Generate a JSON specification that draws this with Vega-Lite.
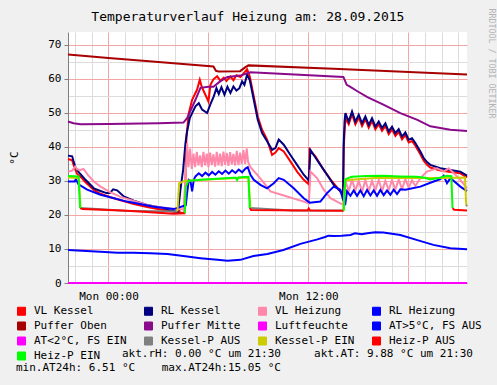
{
  "$schema": "https://vega.github.io/schema/vega-lite/v6.json",
  "width": 399,
  "height": 251,
  "autosize": {"type": "none"},
  "padding": {"left": 68, "top": 32, "right": 30, "bottom": 102},
  "background": "#f0f0f0",
  "config": {
    "font": "DejaVu Sans Mono",
    "view": {"stroke": null, "fill": "white"}
  },
  "title": {
    "text": "Temperaturverlauf Heizung am: 28.09.2015",
    "font": "DejaVu Sans Mono",
    "fontSize": 13,
    "fontWeight": "normal",
    "color": "black",
    "anchor": "middle",
    "frame": "bounds",
    "baseline": "alphabetic",
    "offset": -26,
    "dx": -4
  },
  "data": {
    "values": [
      {"s":"VL Kessel","h":-2.43,"v":36.4},{"s":"VL Kessel","h":-2.18,"v":36.0},{"s":"VL Kessel","h":-2.05,"v":34.0},{"s":"VL Kessel","h":-1.88,"v":32.0},{"s":"VL Kessel","h":-1.6,"v":30.8},{"s":"VL Kessel","h":-1.38,"v":29.6},{"s":"VL Kessel","h":-0.88,"v":27.3},{"s":"VL Kessel","h":-0.48,"v":26.2},{"s":"VL Kessel","h":0.12,"v":25.2},{"s":"VL Kessel","h":0.72,"v":24.3},{"s":"VL Kessel","h":1.52,"v":23.2},{"s":"VL Kessel","h":2.32,"v":22.3},{"s":"VL Kessel","h":3.12,"v":21.6},{"s":"VL Kessel","h":3.9,"v":20.9},{"s":"VL Kessel","h":4.14,"v":20.6},{"s":"VL Kessel","h":4.2,"v":22.4},{"s":"VL Kessel","h":4.28,"v":20.7},{"s":"VL Kessel","h":4.56,"v":20.5},{"s":"VL Kessel","h":4.62,"v":30.0},{"s":"VL Kessel","h":4.68,"v":43.0},{"s":"VL Kessel","h":4.82,"v":49.9},{"s":"VL Kessel","h":5.02,"v":53.8},{"s":"VL Kessel","h":5.32,"v":56.8},{"s":"VL Kessel","h":5.48,"v":59.7},{"s":"VL Kessel","h":5.6,"v":57.6},{"s":"VL Kessel","h":5.72,"v":56.3},{"s":"VL Kessel","h":6.0,"v":53.3},{"s":"VL Kessel","h":6.12,"v":58.2},{"s":"VL Kessel","h":6.3,"v":59.8},{"s":"VL Kessel","h":6.52,"v":60.7},{"s":"VL Kessel","h":6.72,"v":59.4},{"s":"VL Kessel","h":6.92,"v":60.3},{"s":"VL Kessel","h":7.08,"v":59.3},{"s":"VL Kessel","h":7.32,"v":60.6},{"s":"VL Kessel","h":7.5,"v":59.5},{"s":"VL Kessel","h":7.68,"v":61.0},{"s":"VL Kessel","h":7.92,"v":60.5},{"s":"VL Kessel","h":8.1,"v":61.5},{"s":"VL Kessel","h":8.32,"v":62.8},{"s":"VL Kessel","h":8.48,"v":60.7},{"s":"VL Kessel","h":8.72,"v":54.8},{"s":"VL Kessel","h":8.96,"v":48.9},{"s":"VL Kessel","h":9.22,"v":45.0},{"s":"VL Kessel","h":9.52,"v":42.1},{"s":"VL Kessel","h":9.82,"v":37.6},{"s":"VL Kessel","h":10.02,"v":38.3},{"s":"VL Kessel","h":10.22,"v":39.6},{"s":"VL Kessel","h":10.52,"v":38.6},{"s":"VL Kessel","h":10.92,"v":35.7},{"s":"VL Kessel","h":11.32,"v":32.7},{"s":"VL Kessel","h":11.72,"v":30.3},{"s":"VL Kessel","h":12.02,"v":29.0},{"s":"VL Kessel","h":12.07,"v":39.1},{"s":"VL Kessel","h":12.42,"v":37.2},{"s":"VL Kessel","h":12.92,"v":33.2},{"s":"VL Kessel","h":13.42,"v":29.8},{"s":"VL Kessel","h":13.92,"v":26.9},{"s":"VL Kessel","h":14.08,"v":25.6},{"s":"VL Kessel","h":14.12,"v":40.0},{"s":"VL Kessel","h":14.22,"v":48.4},{"s":"VL Kessel","h":14.42,"v":46.6},{"s":"VL Kessel","h":14.62,"v":49.6},{"s":"VL Kessel","h":14.82,"v":46.6},{"s":"VL Kessel","h":15.02,"v":48.6},{"s":"VL Kessel","h":15.22,"v":46.1},{"s":"VL Kessel","h":15.42,"v":48.1},{"s":"VL Kessel","h":15.62,"v":45.6},{"s":"VL Kessel","h":15.82,"v":47.6},{"s":"VL Kessel","h":16.02,"v":45.1},{"s":"VL Kessel","h":16.22,"v":46.6},{"s":"VL Kessel","h":16.42,"v":44.7},{"s":"VL Kessel","h":16.62,"v":46.1},{"s":"VL Kessel","h":16.82,"v":43.7},{"s":"VL Kessel","h":17.02,"v":45.1},{"s":"VL Kessel","h":17.22,"v":43.2},{"s":"VL Kessel","h":17.42,"v":44.4},{"s":"VL Kessel","h":17.62,"v":42.2},{"s":"VL Kessel","h":17.82,"v":43.4},{"s":"VL Kessel","h":18.02,"v":41.3},{"s":"VL Kessel","h":18.22,"v":41.7},{"s":"VL Kessel","h":18.42,"v":40.3},{"s":"VL Kessel","h":18.72,"v":37.8},{"s":"VL Kessel","h":18.92,"v":35.9},{"s":"VL Kessel","h":19.12,"v":34.7},{"s":"VL Kessel","h":19.32,"v":33.9},{"s":"VL Kessel","h":19.92,"v":33.0},{"s":"VL Kessel","h":20.52,"v":32.6},{"s":"VL Kessel","h":21.12,"v":32.2},{"s":"VL Kessel","h":21.52,"v":31.0},

      {"s":"RL Kessel","h":-2.43,"v":37.4},{"s":"RL Kessel","h":-2.18,"v":37.2},{"s":"RL Kessel","h":-2.1,"v":35.8},{"s":"RL Kessel","h":-1.98,"v":34.0},{"s":"RL Kessel","h":-1.8,"v":32.6},{"s":"RL Kessel","h":-1.6,"v":31.5},{"s":"RL Kessel","h":-1.38,"v":30.3},{"s":"RL Kessel","h":-0.88,"v":27.8},{"s":"RL Kessel","h":-0.48,"v":27.0},{"s":"RL Kessel","h":-0.12,"v":26.4},{"s":"RL Kessel","h":0.08,"v":26.4},{"s":"RL Kessel","h":0.28,"v":27.5},{"s":"RL Kessel","h":0.52,"v":27.2},{"s":"RL Kessel","h":0.92,"v":25.4},{"s":"RL Kessel","h":1.52,"v":24.2},{"s":"RL Kessel","h":2.32,"v":22.9},{"s":"RL Kessel","h":3.12,"v":22.2},{"s":"RL Kessel","h":4.02,"v":21.0},{"s":"RL Kessel","h":4.17,"v":20.8},{"s":"RL Kessel","h":4.32,"v":27.4},{"s":"RL Kessel","h":4.48,"v":33.2},{"s":"RL Kessel","h":4.62,"v":41.1},{"s":"RL Kessel","h":4.72,"v":44.5},{"s":"RL Kessel","h":4.88,"v":48.4},{"s":"RL Kessel","h":5.02,"v":49.9},{"s":"RL Kessel","h":5.22,"v":51.9},{"s":"RL Kessel","h":5.42,"v":52.8},{"s":"RL Kessel","h":5.62,"v":50.9},{"s":"RL Kessel","h":5.92,"v":49.9},{"s":"RL Kessel","h":6.12,"v":52.5},{"s":"RL Kessel","h":6.32,"v":54.8},{"s":"RL Kessel","h":6.48,"v":57.2},{"s":"RL Kessel","h":6.62,"v":55.5},{"s":"RL Kessel","h":6.78,"v":57.5},{"s":"RL Kessel","h":6.96,"v":55.3},{"s":"RL Kessel","h":7.14,"v":57.6},{"s":"RL Kessel","h":7.32,"v":55.8},{"s":"RL Kessel","h":7.5,"v":57.7},{"s":"RL Kessel","h":7.68,"v":56.5},{"s":"RL Kessel","h":7.86,"v":57.2},{"s":"RL Kessel","h":8.02,"v":59.2},{"s":"RL Kessel","h":8.16,"v":58.2},{"s":"RL Kessel","h":8.32,"v":61.2},{"s":"RL Kessel","h":8.48,"v":59.6},{"s":"RL Kessel","h":8.72,"v":53.8},{"s":"RL Kessel","h":8.96,"v":47.9},{"s":"RL Kessel","h":9.22,"v":44.0},{"s":"RL Kessel","h":9.52,"v":41.6},{"s":"RL Kessel","h":9.82,"v":39.1},{"s":"RL Kessel","h":10.02,"v":39.6},{"s":"RL Kessel","h":10.22,"v":42.1},{"s":"RL Kessel","h":10.52,"v":40.6},{"s":"RL Kessel","h":10.92,"v":37.6},{"s":"RL Kessel","h":11.32,"v":34.7},{"s":"RL Kessel","h":11.72,"v":31.8},{"s":"RL Kessel","h":12.02,"v":30.1},{"s":"RL Kessel","h":12.09,"v":36.0},{"s":"RL Kessel","h":12.12,"v":39.1},{"s":"RL Kessel","h":12.32,"v":37.6},{"s":"RL Kessel","h":12.72,"v":34.7},{"s":"RL Kessel","h":13.12,"v":31.8},{"s":"RL Kessel","h":13.52,"v":28.8},{"s":"RL Kessel","h":13.92,"v":26.9},{"s":"RL Kessel","h":14.08,"v":25.6},{"s":"RL Kessel","h":14.12,"v":41.0},{"s":"RL Kessel","h":14.17,"v":47.4},{"s":"RL Kessel","h":14.22,"v":49.9},{"s":"RL Kessel","h":14.42,"v":47.4},{"s":"RL Kessel","h":14.62,"v":50.4},{"s":"RL Kessel","h":14.82,"v":47.4},{"s":"RL Kessel","h":15.02,"v":49.4},{"s":"RL Kessel","h":15.22,"v":46.9},{"s":"RL Kessel","h":15.42,"v":48.9},{"s":"RL Kessel","h":15.62,"v":46.4},{"s":"RL Kessel","h":15.82,"v":48.4},{"s":"RL Kessel","h":16.02,"v":45.9},{"s":"RL Kessel","h":16.22,"v":47.4},{"s":"RL Kessel","h":16.42,"v":45.5},{"s":"RL Kessel","h":16.62,"v":46.9},{"s":"RL Kessel","h":16.82,"v":44.5},{"s":"RL Kessel","h":17.02,"v":45.9},{"s":"RL Kessel","h":17.22,"v":44.0},{"s":"RL Kessel","h":17.42,"v":45.2},{"s":"RL Kessel","h":17.62,"v":43.0},{"s":"RL Kessel","h":17.82,"v":44.2},{"s":"RL Kessel","h":18.02,"v":42.1},{"s":"RL Kessel","h":18.22,"v":42.5},{"s":"RL Kessel","h":18.42,"v":41.1},{"s":"RL Kessel","h":18.72,"v":38.6},{"s":"RL Kessel","h":18.92,"v":36.7},{"s":"RL Kessel","h":19.12,"v":35.5},{"s":"RL Kessel","h":19.32,"v":34.7},{"s":"RL Kessel","h":19.92,"v":33.7},{"s":"RL Kessel","h":20.52,"v":33.2},{"s":"RL Kessel","h":21.12,"v":32.7},{"s":"RL Kessel","h":21.52,"v":31.5},

      {"s":"VL Heizung","h":-2.43,"v":32.7},{"s":"VL Heizung","h":-2.18,"v":33.0},{"s":"VL Heizung","h":-2.0,"v":34.2},{"s":"VL Heizung","h":-1.88,"v":33.4},{"s":"VL Heizung","h":-1.68,"v":33.2},{"s":"VL Heizung","h":-1.5,"v":33.5},{"s":"VL Heizung","h":-1.2,"v":31.5},{"s":"VL Heizung","h":-0.88,"v":29.8},{"s":"VL Heizung","h":-0.48,"v":28.3},{"s":"VL Heizung","h":0.12,"v":26.6},{"s":"VL Heizung","h":0.72,"v":25.3},{"s":"VL Heizung","h":1.12,"v":24.7},{"s":"VL Heizung","h":2.52,"v":22.6},{"s":"VL Heizung","h":3.72,"v":21.9},{"s":"VL Heizung","h":4.5,"v":21.6},{"s":"VL Heizung","h":4.62,"v":30.0},{"s":"VL Heizung","h":4.72,"v":41.0},{"s":"VL Heizung","h":4.8,"v":34.0},{"s":"VL Heizung","h":4.9,"v":39.5},{"s":"VL Heizung","h":5.0,"v":33.5},{"s":"VL Heizung","h":5.1,"v":38.0},{"s":"VL Heizung","h":5.2,"v":34.0},{"s":"VL Heizung","h":5.3,"v":38.5},{"s":"VL Heizung","h":5.4,"v":34.5},{"s":"VL Heizung","h":5.5,"v":37.5},{"s":"VL Heizung","h":5.6,"v":34.0},{"s":"VL Heizung","h":5.7,"v":38.5},{"s":"VL Heizung","h":5.8,"v":34.5},{"s":"VL Heizung","h":5.9,"v":38.0},{"s":"VL Heizung","h":6.0,"v":34.0},{"s":"VL Heizung","h":6.1,"v":38.3},{"s":"VL Heizung","h":6.2,"v":34.6},{"s":"VL Heizung","h":6.3,"v":37.8},{"s":"VL Heizung","h":6.4,"v":34.2},{"s":"VL Heizung","h":6.5,"v":38.5},{"s":"VL Heizung","h":6.6,"v":34.5},{"s":"VL Heizung","h":6.7,"v":38.0},{"s":"VL Heizung","h":6.8,"v":34.3},{"s":"VL Heizung","h":6.9,"v":38.6},{"s":"VL Heizung","h":7.0,"v":34.7},{"s":"VL Heizung","h":7.1,"v":38.2},{"s":"VL Heizung","h":7.2,"v":34.4},{"s":"VL Heizung","h":7.3,"v":38.4},{"s":"VL Heizung","h":7.4,"v":34.8},{"s":"VL Heizung","h":7.5,"v":37.9},{"s":"VL Heizung","h":7.6,"v":34.5},{"s":"VL Heizung","h":7.7,"v":38.8},{"s":"VL Heizung","h":7.8,"v":34.6},{"s":"VL Heizung","h":7.9,"v":38.3},{"s":"VL Heizung","h":8.0,"v":34.9},{"s":"VL Heizung","h":8.1,"v":39.0},{"s":"VL Heizung","h":8.2,"v":35.0},{"s":"VL Heizung","h":8.3,"v":39.5},{"s":"VL Heizung","h":8.38,"v":35.5},{"s":"VL Heizung","h":8.52,"v":34.0},{"s":"VL Heizung","h":8.92,"v":31.8},{"s":"VL Heizung","h":9.32,"v":29.5},{"s":"VL Heizung","h":9.72,"v":26.9},{"s":"VL Heizung","h":10.72,"v":25.4},{"s":"VL Heizung","h":11.72,"v":23.9},{"s":"VL Heizung","h":12.02,"v":23.4},{"s":"VL Heizung","h":12.08,"v":28.0},{"s":"VL Heizung","h":12.12,"v":32.7},{"s":"VL Heizung","h":12.52,"v":30.8},{"s":"VL Heizung","h":12.92,"v":27.4},{"s":"VL Heizung","h":13.32,"v":24.9},{"s":"VL Heizung","h":13.92,"v":23.4},{"s":"VL Heizung","h":14.08,"v":23.0},{"s":"VL Heizung","h":14.16,"v":26.0},{"s":"VL Heizung","h":14.22,"v":30.0},{"s":"VL Heizung","h":14.42,"v":27.0},{"s":"VL Heizung","h":14.62,"v":30.2},{"s":"VL Heizung","h":14.82,"v":27.2},{"s":"VL Heizung","h":15.02,"v":30.0},{"s":"VL Heizung","h":15.22,"v":26.8},{"s":"VL Heizung","h":15.42,"v":30.2},{"s":"VL Heizung","h":15.62,"v":27.0},{"s":"VL Heizung","h":15.82,"v":30.0},{"s":"VL Heizung","h":16.02,"v":27.2},{"s":"VL Heizung","h":16.22,"v":30.3},{"s":"VL Heizung","h":16.42,"v":27.0},{"s":"VL Heizung","h":16.62,"v":30.0},{"s":"VL Heizung","h":16.82,"v":27.3},{"s":"VL Heizung","h":17.02,"v":30.2},{"s":"VL Heizung","h":17.22,"v":27.4},{"s":"VL Heizung","h":17.42,"v":30.4},{"s":"VL Heizung","h":17.62,"v":27.6},{"s":"VL Heizung","h":17.82,"v":30.5},{"s":"VL Heizung","h":18.02,"v":28.0},{"s":"VL Heizung","h":18.22,"v":30.2},{"s":"VL Heizung","h":18.42,"v":28.5},{"s":"VL Heizung","h":18.72,"v":30.8},{"s":"VL Heizung","h":19.12,"v":32.7},{"s":"VL Heizung","h":19.72,"v":33.7},{"s":"VL Heizung","h":20.12,"v":32.7},{"s":"VL Heizung","h":20.42,"v":33.7},{"s":"VL Heizung","h":20.82,"v":31.8},{"s":"VL Heizung","h":21.12,"v":30.3},{"s":"VL Heizung","h":21.52,"v":27.8},

      {"s":"RL Heizung","h":-2.43,"v":29.8},{"s":"RL Heizung","h":-2.02,"v":29.8},{"s":"RL Heizung","h":-1.96,"v":30.5},{"s":"RL Heizung","h":-1.8,"v":29.0},{"s":"RL Heizung","h":-1.28,"v":27.4},{"s":"RL Heizung","h":-0.48,"v":25.9},{"s":"RL Heizung","h":1.12,"v":23.9},{"s":"RL Heizung","h":2.72,"v":22.4},{"s":"RL Heizung","h":3.92,"v":21.7},{"s":"RL Heizung","h":4.5,"v":22.6},{"s":"RL Heizung","h":4.64,"v":22.8},{"s":"RL Heizung","h":4.72,"v":26.4},{"s":"RL Heizung","h":4.82,"v":30.3},{"s":"RL Heizung","h":4.92,"v":30.0},{"s":"RL Heizung","h":5.02,"v":26.9},{"s":"RL Heizung","h":5.12,"v":30.3},{"s":"RL Heizung","h":5.22,"v":31.3},{"s":"RL Heizung","h":5.42,"v":32.2},{"s":"RL Heizung","h":5.62,"v":31.4},{"s":"RL Heizung","h":5.82,"v":32.4},{"s":"RL Heizung","h":6.02,"v":31.6},{"s":"RL Heizung","h":6.22,"v":32.6},{"s":"RL Heizung","h":6.42,"v":31.8},{"s":"RL Heizung","h":6.62,"v":32.8},{"s":"RL Heizung","h":6.82,"v":32.0},{"s":"RL Heizung","h":7.02,"v":33.0},{"s":"RL Heizung","h":7.22,"v":32.1},{"s":"RL Heizung","h":7.42,"v":33.1},{"s":"RL Heizung","h":7.62,"v":32.3},{"s":"RL Heizung","h":7.82,"v":33.3},{"s":"RL Heizung","h":8.02,"v":32.5},{"s":"RL Heizung","h":8.22,"v":33.6},{"s":"RL Heizung","h":8.36,"v":34.0},{"s":"RL Heizung","h":8.52,"v":31.8},{"s":"RL Heizung","h":8.72,"v":30.3},{"s":"RL Heizung","h":9.12,"v":28.8},{"s":"RL Heizung","h":9.52,"v":27.8},{"s":"RL Heizung","h":9.92,"v":29.3},{"s":"RL Heizung","h":10.22,"v":30.8},{"s":"RL Heizung","h":10.52,"v":30.3},{"s":"RL Heizung","h":11.12,"v":27.8},{"s":"RL Heizung","h":11.72,"v":24.9},{"s":"RL Heizung","h":12.08,"v":23.6},{"s":"RL Heizung","h":12.72,"v":23.9},{"s":"RL Heizung","h":13.12,"v":26.4},{"s":"RL Heizung","h":13.52,"v":28.3},{"s":"RL Heizung","h":13.92,"v":27.4},{"s":"RL Heizung","h":14.08,"v":24.4},{"s":"RL Heizung","h":14.22,"v":23.4},{"s":"RL Heizung","h":14.32,"v":26.9},{"s":"RL Heizung","h":14.52,"v":25.6},{"s":"RL Heizung","h":14.72,"v":27.2},{"s":"RL Heizung","h":14.92,"v":25.6},{"s":"RL Heizung","h":15.12,"v":27.2},{"s":"RL Heizung","h":15.32,"v":25.5},{"s":"RL Heizung","h":15.52,"v":27.3},{"s":"RL Heizung","h":15.72,"v":25.7},{"s":"RL Heizung","h":15.92,"v":27.2},{"s":"RL Heizung","h":16.12,"v":25.6},{"s":"RL Heizung","h":16.32,"v":27.3},{"s":"RL Heizung","h":16.52,"v":25.8},{"s":"RL Heizung","h":16.72,"v":27.2},{"s":"RL Heizung","h":16.92,"v":25.9},{"s":"RL Heizung","h":17.12,"v":27.4},{"s":"RL Heizung","h":17.32,"v":26.1},{"s":"RL Heizung","h":17.52,"v":27.5},{"s":"RL Heizung","h":17.82,"v":27.4},{"s":"RL Heizung","h":18.72,"v":28.3},{"s":"RL Heizung","h":19.52,"v":29.8},{"s":"RL Heizung","h":19.92,"v":30.5},{"s":"RL Heizung","h":20.12,"v":31.5},{"s":"RL Heizung","h":20.32,"v":29.3},{"s":"RL Heizung","h":20.52,"v":30.8},{"s":"RL Heizung","h":21.12,"v":28.3},{"s":"RL Heizung","h":21.52,"v":27.0},

      {"s":"Puffer Oben","h":-2.43,"v":67.1},{"s":"Puffer Oben","h":0.0,"v":66.1},{"s":"Puffer Oben","h":3.0,"v":64.9},{"s":"Puffer Oben","h":6.3,"v":63.6},{"s":"Puffer Oben","h":6.45,"v":62.3},{"s":"Puffer Oben","h":6.6,"v":62.1},{"s":"Puffer Oben","h":7.9,"v":62.2},{"s":"Puffer Oben","h":8.2,"v":63.3},{"s":"Puffer Oben","h":8.4,"v":63.9},{"s":"Puffer Oben","h":13.5,"v":62.9},{"s":"Puffer Oben","h":21.52,"v":61.2},

      {"s":"Puffer Mitte","h":-2.43,"v":47.4},{"s":"Puffer Mitte","h":-2.1,"v":46.9},{"s":"Puffer Mitte","h":-1.68,"v":46.6},{"s":"Puffer Mitte","h":0.0,"v":46.7},{"s":"Puffer Mitte","h":3.0,"v":46.9},{"s":"Puffer Mitte","h":4.5,"v":47.1},{"s":"Puffer Mitte","h":4.72,"v":48.4},{"s":"Puffer Mitte","h":5.22,"v":53.8},{"s":"Puffer Mitte","h":5.52,"v":57.3},{"s":"Puffer Mitte","h":6.0,"v":57.6},{"s":"Puffer Mitte","h":6.3,"v":57.6},{"s":"Puffer Mitte","h":6.7,"v":59.2},{"s":"Puffer Mitte","h":7.14,"v":60.5},{"s":"Puffer Mitte","h":7.92,"v":60.9},{"s":"Puffer Mitte","h":8.52,"v":61.9},{"s":"Puffer Mitte","h":14.1,"v":60.5},{"s":"Puffer Mitte","h":14.3,"v":58.2},{"s":"Puffer Mitte","h":14.52,"v":57.6},{"s":"Puffer Mitte","h":14.94,"v":56.3},{"s":"Puffer Mitte","h":15.54,"v":54.6},{"s":"Puffer Mitte","h":16.5,"v":52.4},{"s":"Puffer Mitte","h":17.52,"v":49.9},{"s":"Puffer Mitte","h":18.54,"v":47.9},{"s":"Puffer Mitte","h":19.32,"v":46.0},{"s":"Puffer Mitte","h":20.52,"v":45.0},{"s":"Puffer Mitte","h":21.52,"v":44.6},

      {"s":"Luftfeuchte","h":-2.43,"v":0},{"s":"Luftfeuchte","h":21.52,"v":0},

      {"s":"AT>5°C, FS AUS","h":-2.43,"v":9.7},{"s":"AT>5°C, FS AUS","h":-0.48,"v":9.2},{"s":"AT>5°C, FS AUS","h":0.54,"v":8.9},{"s":"AT>5°C, FS AUS","h":1.5,"v":8.9},{"s":"AT>5°C, FS AUS","h":2.52,"v":8.7},{"s":"AT>5°C, FS AUS","h":3.54,"v":8.5},{"s":"AT>5°C, FS AUS","h":4.5,"v":7.9},{"s":"AT>5°C, FS AUS","h":5.52,"v":7.3},{"s":"AT>5°C, FS AUS","h":6.54,"v":6.8},{"s":"AT>5°C, FS AUS","h":7.14,"v":6.5},{"s":"AT>5°C, FS AUS","h":7.92,"v":6.8},{"s":"AT>5°C, FS AUS","h":8.7,"v":7.9},{"s":"AT>5°C, FS AUS","h":9.54,"v":8.5},{"s":"AT>5°C, FS AUS","h":10.5,"v":9.7},{"s":"AT>5°C, FS AUS","h":11.52,"v":11.5},{"s":"AT>5°C, FS AUS","h":12.54,"v":12.8},{"s":"AT>5°C, FS AUS","h":13.0,"v":13.5},{"s":"AT>5°C, FS AUS","h":13.2,"v":13.9},{"s":"AT>5°C, FS AUS","h":13.5,"v":13.8},{"s":"AT>5°C, FS AUS","h":14.0,"v":13.9},{"s":"AT>5°C, FS AUS","h":14.52,"v":14.1},{"s":"AT>5°C, FS AUS","h":14.8,"v":14.6},{"s":"AT>5°C, FS AUS","h":15.2,"v":14.3},{"s":"AT>5°C, FS AUS","h":15.54,"v":14.6},{"s":"AT>5°C, FS AUS","h":16.0,"v":14.9},{"s":"AT>5°C, FS AUS","h":16.5,"v":14.8},{"s":"AT>5°C, FS AUS","h":17.52,"v":14.1},{"s":"AT>5°C, FS AUS","h":18.54,"v":12.6},{"s":"AT>5°C, FS AUS","h":19.5,"v":11.2},{"s":"AT>5°C, FS AUS","h":20.52,"v":10.2},{"s":"AT>5°C, FS AUS","h":21.52,"v":9.9},

      {"s":"Kessel-P AUS","g":"KA1","h":-1.68,"v":22.0},{"s":"Kessel-P AUS","g":"KA1","h":1.0,"v":21.2},{"s":"Kessel-P AUS","g":"KA1","h":4.14,"v":21.0},
      {"s":"Kessel-P AUS","g":"KA2","h":8.52,"v":22.0},{"s":"Kessel-P AUS","g":"KA2","h":11.0,"v":21.3},{"s":"Kessel-P AUS","g":"KA2","h":14.1,"v":21.3},
      {"s":"Kessel-P AUS","g":"KA3","h":21.47,"v":23.0},{"s":"Kessel-P AUS","g":"KA3","h":21.52,"v":22.5},

      {"s":"Kessel-P EIN","g":"KE1","h":-2.43,"v":31.0},{"s":"Kessel-P EIN","g":"KE1","h":-1.78,"v":30.8},{"s":"Kessel-P EIN","g":"KE1","h":-1.68,"v":22.0},
      {"s":"Kessel-P EIN","g":"KE2","h":4.14,"v":21.0},{"s":"Kessel-P EIN","g":"KE2","h":4.24,"v":29.3},{"s":"Kessel-P EIN","g":"KE2","h":4.6,"v":30.0},{"s":"Kessel-P EIN","g":"KE2","h":6.5,"v":30.5},{"s":"Kessel-P EIN","g":"KE2","h":8.4,"v":31.0},{"s":"Kessel-P EIN","g":"KE2","h":8.52,"v":22.0},
      {"s":"Kessel-P EIN","g":"KE3","h":14.1,"v":21.3},{"s":"Kessel-P EIN","g":"KE3","h":14.2,"v":30.2},{"s":"Kessel-P EIN","g":"KE3","h":16.0,"v":30.8},{"s":"Kessel-P EIN","g":"KE3","h":18.0,"v":30.8},{"s":"Kessel-P EIN","g":"KE3","h":20.0,"v":30.8},{"s":"Kessel-P EIN","g":"KE3","h":21.4,"v":31.0},{"s":"Kessel-P EIN","g":"KE3","h":21.47,"v":23.0},

      {"s":"Heiz-P AUS","g":"HA1","h":-1.7,"v":22.0},{"s":"Heiz-P AUS","g":"HA1","h":-1.55,"v":21.7},{"s":"Heiz-P AUS","g":"HA1","h":1.12,"v":21.2},{"s":"Heiz-P AUS","g":"HA1","h":3.9,"v":20.3},{"s":"Heiz-P AUS","g":"HA1","h":4.58,"v":20.5},
      {"s":"Heiz-P AUS","g":"HA2","h":8.48,"v":22.0},{"s":"Heiz-P AUS","g":"HA2","h":8.56,"v":21.4},{"s":"Heiz-P AUS","g":"HA2","h":11.95,"v":21.3},{"s":"Heiz-P AUS","g":"HA2","h":12.02,"v":21.9},{"s":"Heiz-P AUS","g":"HA2","h":12.1,"v":21.3},{"s":"Heiz-P AUS","g":"HA2","h":14.12,"v":21.2},
      {"s":"Heiz-P AUS","g":"HA3","h":20.65,"v":22.0},{"s":"Heiz-P AUS","g":"HA3","h":20.75,"v":21.5},{"s":"Heiz-P AUS","g":"HA3","h":21.52,"v":21.3},

      {"s":"Heiz-P EIN","g":"HE1","h":-2.43,"v":31.4},{"s":"Heiz-P EIN","g":"HE1","h":-1.8,"v":31.3},{"s":"Heiz-P EIN","g":"HE1","h":-1.7,"v":22.0},
      {"s":"Heiz-P EIN","g":"HE2","h":4.58,"v":20.5},{"s":"Heiz-P EIN","g":"HE2","h":4.64,"v":28.3},{"s":"Heiz-P EIN","g":"HE2","h":4.8,"v":30.0},{"s":"Heiz-P EIN","g":"HE2","h":5.5,"v":30.3},{"s":"Heiz-P EIN","g":"HE2","h":6.5,"v":30.6},{"s":"Heiz-P EIN","g":"HE2","h":7.5,"v":30.9},{"s":"Heiz-P EIN","g":"HE2","h":7.64,"v":30.9},{"s":"Heiz-P EIN","g":"HE2","h":7.72,"v":30.2},{"s":"Heiz-P EIN","g":"HE2","h":7.8,"v":31.0},{"s":"Heiz-P EIN","g":"HE2","h":8.4,"v":31.2},{"s":"Heiz-P EIN","g":"HE2","h":8.48,"v":22.0},
      {"s":"Heiz-P EIN","g":"HE3","h":14.12,"v":21.2},{"s":"Heiz-P EIN","g":"HE3","h":14.22,"v":30.5},{"s":"Heiz-P EIN","g":"HE3","h":14.6,"v":31.2},{"s":"Heiz-P EIN","g":"HE3","h":15.5,"v":31.4},{"s":"Heiz-P EIN","g":"HE3","h":16.5,"v":31.5},{"s":"Heiz-P EIN","g":"HE3","h":17.5,"v":31.3},{"s":"Heiz-P EIN","g":"HE3","h":18.5,"v":31.2},{"s":"Heiz-P EIN","g":"HE3","h":19.0,"v":30.9},{"s":"Heiz-P EIN","g":"HE3","h":19.3,"v":30.4},{"s":"Heiz-P EIN","g":"HE3","h":19.8,"v":30.8},{"s":"Heiz-P EIN","g":"HE3","h":20.3,"v":31.5},{"s":"Heiz-P EIN","g":"HE3","h":20.58,"v":31.4},{"s":"Heiz-P EIN","g":"HE3","h":20.65,"v":22.0}
    ]
  },
  "encoding": {
    "x": {
      "field": "h",
      "type": "quantitative",
      "scale": {"domain": [-2.43, 21.52], "nice": false, "zero": false},
      "axis": {
        "title": null,
        "values": [-2,-1,0,1,2,3,4,5,6,7,8,9,10,11,12,13,14,15,16,17,18,19,20,21],
        "grid": true,
        "gridColor": {"condition": {"test": "datum.value % 6 == 0", "value": "#f2a6a6"}, "value": "#dcdcdc"},
        "gridWidth": 1,
        "ticks": false,
        "labelExpr": "datum.value == 0 ? 'Mon 00:00' : (datum.value == 12 ? 'Mon 12:00' : '')",
        "labelOverlap": false,
        "labelFlush": false,
        "labelFont": "DejaVu Sans Mono",
        "labelFontSize": 11,
        "labelColor": "black",
        "labelPadding": 7,
        "domainColor": "#808080"
      }
    }
  },
  "layer": [
    {
      "mark": {"type": "line", "strokeWidth": 2, "interpolate": "linear"},
      "encoding": {
        "y": {
          "field": "v",
          "type": "quantitative",
          "scale": {"domain": [0, 73.7], "nice": false, "zero": false},
          "axis": {
            "values": [0,5,10,15,20,25,30,35,40,45,50,55,60,65,70],
            "grid": true,
            "gridColor": {"condition": {"test": "datum.value % 10 == 0", "value": "#f2a6a6"}, "value": "#dcdcdc"},
            "labelExpr": "datum.value % 10 == 0 ? datum.label : ''",
            "tickSize": 4,
            "tickColor": "#808080",
            "tickOpacity": {"condition": {"test": "datum.value % 10 == 0", "value": 1}, "value": 0},
            "labelPadding": 3,
            "labelFont": "DejaVu Sans Mono",
            "labelFontSize": 11,
            "labelColor": "black",
            "domainColor": "#808080",
            "title": "°C",
            "titleFont": "DejaVu Sans Mono",
            "titleFontSize": 11,
            "titleFontWeight": "normal",
            "titleColor": "black",
            "titlePadding": 28
          }
        },
        "color": {
          "field": "s",
          "type": "nominal",
          "scale": {
            "domain": ["VL Kessel","RL Kessel","VL Heizung","RL Heizung","Puffer Oben","Puffer Mitte","Luftfeuchte","AT>5°C, FS AUS","AT<2°C, FS EIN","Kessel-P AUS","Kessel-P EIN","Heiz-P AUS","Heiz-P EIN"],
            "range": ["#ff0000","#000080","#ff88aa","#0000ff","#a80000","#8b0a8b","#ff00ff","#0000ff","#ff00ff","#808080","#cccc00","#ff0000","#00ff00"]
          },
          "legend": {
            "orient": "none",
            "legendX": -52,
            "legendY": 273.5,
            "direction": "horizontal",
            "columns": 4,
            "columnPadding": 15,
            "rowPadding": 2,
            "padding": 0,
            "symbolType": "square",
            "symbolSize": 64,
            "labelOffset": 7,
            "labelFont": "DejaVu Sans Mono",
            "labelFontSize": 11,
            "labelColor": "black",
            "labelLimit": 400,
            "title": ["\u200b\u00a0\u00a0\u00a0\u00a0\u00a0\u00a0\u00a0\u00a0\u00a0\u00a0\u00a0\u00a0\u00a0\u00a0\u00a0\u00a0akt.rH: 0.00 °C um 21:30\u00a0\u00a0\u00a0\u00a0\u00a0akt.AT: 9.88 °C um 21:30", "min.AT24h: 6.51 °C\u00a0\u00a0\u00a0\u00a0max.AT24h:15.05 °C"],
            "titleOrient": "bottom",
            "titleAnchor": "start",
            "titlePadding": -15,
            "titleFont": "DejaVu Sans Mono",
            "titleFontSize": 11,
            "titleFontWeight": "normal",
            "titleColor": "black",
            "titleLimit": 1000,
            "titleLineHeight": 14,
            "titleBaseline": "top",
            "encode": {
              "symbols": {
                "update": {
                  "fill": {"scale": "color", "field": "value"},
                  "stroke": {"value": "black"},
                  "strokeWidth": {"value": 1},
                  "opacity": {"value": 1},
                  "fillOpacity": {"value": 1}
                }
              }
            }
          }
        },
        "detail": {"field": "g"}
      }
    },
    {
      "transform": [{"filter": "datum.s == 'Luftfeuchte'"}],
      "mark": {"type": "line", "strokeWidth": 2, "color": "#ff00ff"},
      "encoding": {
        "y": {
          "field": "v",
          "type": "quantitative",
          "scale": {"domain": [0, 73.7], "nice": false, "zero": false},
          "axis": {
            "orient": "right",
            "labels": false,
            "ticks": false,
            "domain": false,
            "grid": false,
            "title": "RRDTOOL / TOBI OETIKER",
            "titleFont": "DejaVu Sans Mono",
            "titleFontSize": 8.3,
            "titleFontWeight": "normal",
            "titleColor": "#b4b4b4",
            "titleAngle": 90,
            "titleAlign": "left",
            "titleBaseline": "middle",
            "titleX": 23,
            "titleY": -24
          }
        }
      }
    }
  ],
  "resolve": {"axis": {"y": "independent"}}
}
